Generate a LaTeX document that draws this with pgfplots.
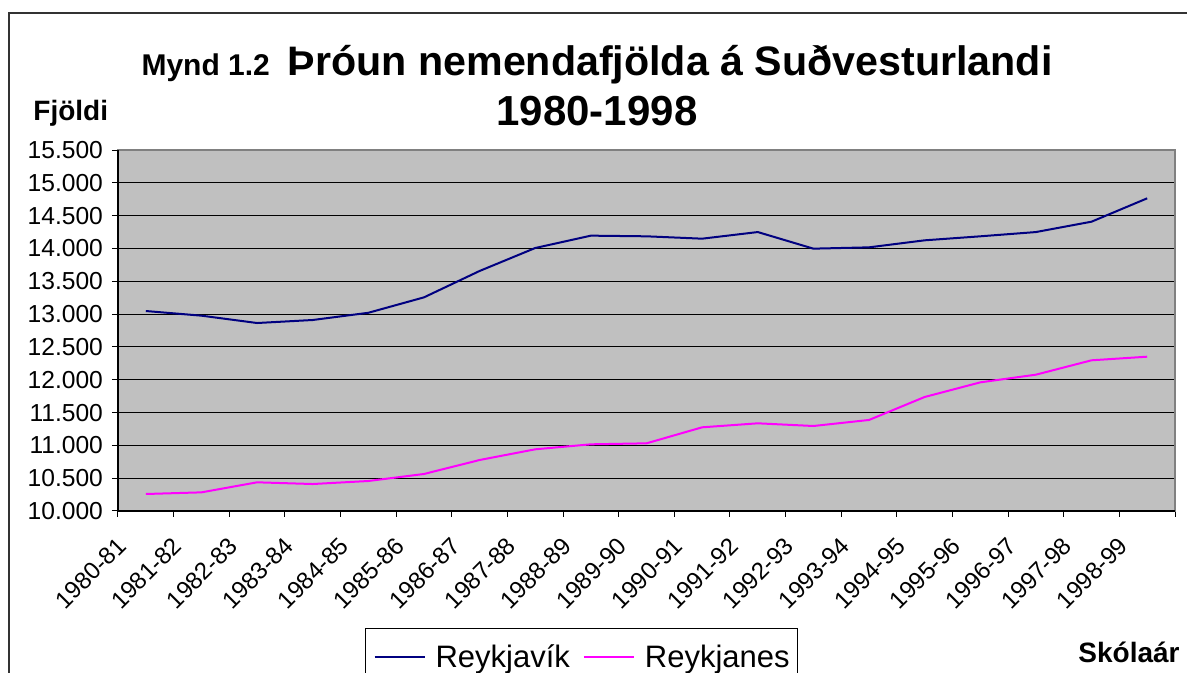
\documentclass[border=0pt]{standalone}
\usepackage{fontspec}
\setmainfont{Liberation Sans}
\usepackage{pgfplots}
\pgfplotsset{compat=1.18}
\definecolor{plotgray}{RGB}{192,192,192}
\definecolor{rvk}{RGB}{0,0,128}
\definecolor{rnes}{RGB}{255,0,255}
\begin{document}
\begin{tikzpicture}
\useasboundingbox (-59pt,-81pt) rectangle (534.5pt,255.5pt);
\draw[black!80, line width=1pt] (-54.5pt,-100pt) -- (-54.5pt,249pt) -- (560pt,249pt);
\begin{axis}[
  name=ax,
  at={(0,0)}, anchor=south west,
  scale only axis, width=528.5pt, height=180.5pt,
  xmin=0.5, xmax=19.5, ymin=10000, ymax=15500,
  axis background/.style={fill=plotgray},
  axis line style={draw=black!50, line width=0.75pt},
  xtick={0.5,1.5,...,19.5}, xticklabels={},
  extra x ticks={1,...,19},
  extra x tick labels={1980-81,1981-82,1982-83,1983-84,1984-85,1985-86,1986-87,1987-88,1988-89,1989-90,1990-91,1991-92,1992-93,1993-94,1994-95,1995-96,1996-97,1997-98,1998-99},
  extra x tick style={major tick length=0pt},
  xticklabel style={font=\fontsize{12}{14}\selectfont, xshift=-9.5pt, yshift=-13pt, rotate=45, anchor=east},
  ytick={10000,10500,...,15500},
  ymajorgrids, grid style={black, line width=0.5pt},
  tick align=outside, tick pos=left, major tick length=3pt,
  tick style={black, line width=0.5pt},
  scaled y ticks=false,
  yticklabel style={font=\fontsize{12.3}{14}\selectfont, xshift=-1pt, /pgf/number format/.cd, fixed, precision=0, 1000 sep={.}, assume math mode=true},
  legend style={at={(0.2337,-0.324)}, anchor=north west, draw=black, line width=0.5pt,
    font=\fontsize{15.5}{18}\selectfont, inner xsep=2pt, inner ysep=6pt,
    /tikz/every even column/.append style={column sep=2.5pt}},
  legend columns=2,
  legend cell align=left,
  legend image code/.code={\path (-2pt,0pt) (28pt,0pt); \draw[#1, line width=1pt] (0pt,0pt) -- (25pt,0pt);},
]
\addplot[rvk, line width=1pt] coordinates {
(1,13047) (2,12976) (3,12864) (4,12910) (5,13020) (6,13255) (7,13657) (8,14007) (9,14195) (10,14185)
(11,14149) (12,14250) (13,13997) (14,14017) (15,14124) (16,14185) (17,14250) (18,14408) (19,14764)};
\addlegendentry{Reykjavík}
\addplot[rnes, line width=1pt] coordinates {
(1,10259) (2,10284) (3,10437) (4,10411) (5,10457) (6,10564) (7,10777) (8,10940) (9,11016) (10,11031)
(11,11275) (12,11336) (13,11295) (14,11387) (15,11737) (16,11960) (17,12077) (18,12296) (19,12351)};
\addlegendentry{Reykjanes}
\end{axis}
\draw[black, line width=0.75pt] (ax.north west) -- (ax.south west) -- (ax.south east);
\node[anchor=base, font=\bfseries, inner sep=0pt] at (239.5pt,217.5pt) {{\fontsize{15}{17}\selectfont Mynd 1.2}\hspace{9pt}{\fontsize{20.6}{25}\selectfont Þróun nemendafjölda á Suðvesturlandi}};
\node[anchor=base, font=\bfseries\fontsize{21}{25}\selectfont, inner sep=0pt] at (239.5pt,192.5pt) {1980-1998};
\node[anchor=base west, font=\bfseries\fontsize{14}{17}\selectfont, inner sep=0pt] at (-42.5pt,195pt) {Fjöldi};
\node[anchor=base east, font=\bfseries\fontsize{14}{17}\selectfont, inner sep=0pt] at (531pt,-76pt) {Skólaár};
\end{tikzpicture}
\end{document}
